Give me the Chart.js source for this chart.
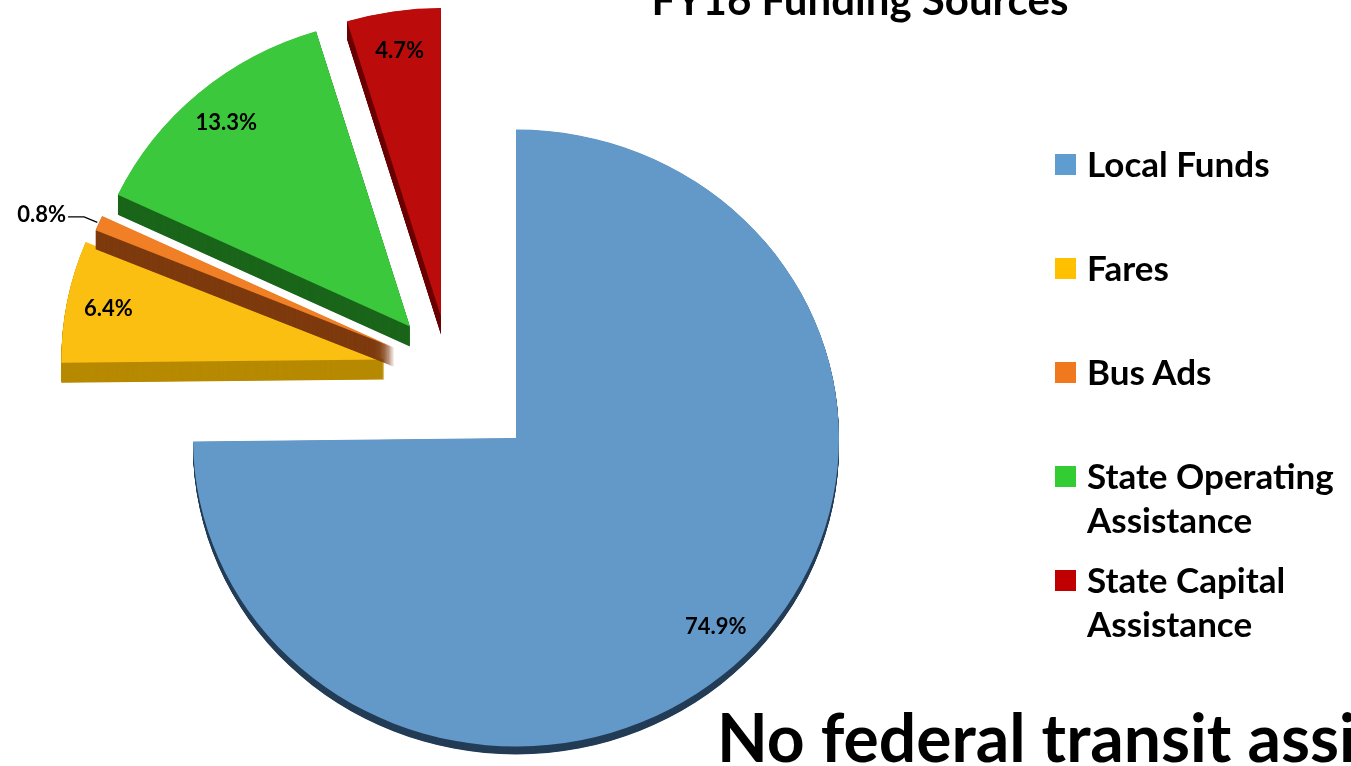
<!DOCTYPE html>
<html><head><meta charset="utf-8">
<script src="https://cdn.jsdelivr.net/npm/chart.js@4/dist/chart.umd.min.js"></script>
<style>
html,body{margin:0;padding:0;background:#fff;overflow:hidden;width:1351px;height:766px;}
#wrap{position:relative;width:1351px;height:766px;overflow:hidden;font-family:Lato,"Open Sans",sans-serif;font-weight:700;color:#000;}
#c{position:absolute;left:0;top:0;}
#title{position:absolute;left:560px;width:600px;top:-22px;text-align:center;font-size:42px;line-height:1;white-space:nowrap;}
#note{position:absolute;left:717px;top:704px;font-size:66px;line-height:1;white-space:nowrap;}
#legend{position:absolute;left:1055px;top:141px;}
.item{position:relative;height:104px;}
.sw{position:absolute;left:0;top:13px;width:21px;height:21px;}
.lt{position:absolute;left:32px;top:0;width:278px;font-size:35px;line-height:44px;}
</style></head>
<body><div id="wrap">
<canvas id="c" width="1351" height="766"></canvas>
<div id="title"></div>
<div id="legend"></div>
<div id="note"></div>
</div>
<script>
const titleText = 'FY16 Funding Sources';
const noteText = 'No federal transit assistance';
const categories = ['Local Funds', 'Fares', 'Bus Ads', 'State Operating Assistance', 'State Capital Assistance'];
const shares = [74.9, 6.4, 0.8, 13.3, 4.7];
const valueLabels = ['74.9%', '6.4%', '0.8%', '13.3%', '4.7%'];
const faceColors = ['#6399c9', '#fbbf12', '#f07f26', '#3cc83c', '#bb0b0b'];
const legendColors = ['#5f9cd0', '#ffc000', '#f0781e', '#33cc33', '#c00000'];
const sideColors = ['#243d57', '#b78a00', '#7e3b0e', '#1b661b', '#6b0000'];

document.getElementById('title').textContent = titleText;
document.getElementById('note').textContent = noteText;
const lg = document.getElementById('legend');
categories.forEach((c, i) => {
  const it = document.createElement('div'); it.className = 'item';
  const sw = document.createElement('div'); sw.className = 'sw'; sw.style.background = legendColors[i];
  const t = document.createElement('div'); t.className = 'lt'; t.textContent = c;
  it.appendChild(sw); it.appendChild(t); lg.appendChild(it);
});

const pie3d = {
  id: 'pie3d',
  beforeDatasetsDraw(chart, args, o) {
    const ctx = chart.ctx;
    const arcs = chart.getDatasetMeta(0).data;
    const cx = arcs[0].x, cy = arcs[0].y;
    let gs = Infinity, ge = -Infinity;
    arcs.forEach((a, i) => { if (o.explode[i] > 0) { gs = Math.min(gs, a.startAngle); ge = Math.max(ge, a.endAngle); } });
    const gm = (gs + ge) / 2;
    const shifts = arcs.map((a, i) => {
      if (!(o.explode[i] > 0)) return {dx: 0, dy: 0};
      const m = (a.startAngle + a.endAngle) / 2;
      return {
        dx: Math.cos(gm) * o.group + Math.cos(m) * o.explode[i],
        dy: Math.sin(gm) * o.group + Math.sin(m) * o.explode[i]
      };
    });
    chart.$shifts = shifts;
    arcs.forEach((a, i) => {
      const s = shifts[i];
      ctx.save();
      ctx.translate(s.dx, s.dy);
      ctx.translate(cx, cy); ctx.scale(1, o.squash); ctx.translate(-cx, -cy);
      ctx.fillStyle = o.side[i];
      for (let k = o.depth[i]; k > 0; k -= 0.5) {
        const yy = a.y + k / o.squash;
        ctx.beginPath();
        ctx.moveTo(a.x, yy);
        ctx.arc(a.x, yy, a.outerRadius, a.startAngle, a.endAngle);
        ctx.closePath();
        ctx.fill();
      }
      a.draw(ctx);
      ctx.restore();
    });
    return false;
  },
  afterDraw(chart, args, o) {
    const ctx = chart.ctx;
    const arcs = chart.getDatasetMeta(0).data;
    const shifts = chart.$shifts || [];
    ctx.save();
    ctx.font = o.font;
    ctx.fillStyle = '#000';
    ctx.strokeStyle = '#000';
    ctx.textBaseline = 'middle';
    arcs.forEach((a, i) => {
      const s = shifts[i] || {dx: 0, dy: 0};
      const m = (a.startAngle + a.endAngle) / 2;
      const r = a.outerRadius;
      const px = f => a.x + s.dx + Math.cos(m) * r * f;
      const py = f => a.y + s.dy + Math.sin(m) * r * f * o.squash;
      if (shares[i] < 2) {
        const x0 = px(1.005), y0 = py(1.005), x1 = px(1.05), y1 = py(1.05);
        ctx.lineWidth = 1.3;
        ctx.beginPath(); ctx.moveTo(x0, y0); ctx.lineTo(x1, y1); ctx.lineTo(x1 - 16, y1); ctx.stroke();
        ctx.textAlign = 'right';
        ctx.fillText(valueLabels[i], x1 - 18, y1 - 2);
      } else {
        ctx.textAlign = 'center';
        ctx.fillText(valueLabels[i], px(o.labelAt), py(o.labelAt));
      }
    });
    ctx.restore();
  }
};

new Chart(document.getElementById('c'), {
  type: 'pie',
  data: {
    labels: categories,
    datasets: [{
      data: shares,
      backgroundColor: faceColors,
      borderWidth: 0,
      offset: 0
    }]
  },
  options: {
    responsive: false,
    animation: false,
    radius: 323,
    layout: {padding: {left: 0, right: 319, top: 110, bottom: 0}},
    plugins: {
      legend: {display: false},
      tooltip: {enabled: false},
      title: {display: false},
      pie3d: {
        explode: [0, 66, 60, 60, 56],
        group: 94,
        squash: 0.955,
        depth: [8, 20, 19, 20, 18],
        side: sideColors,
        labelAt: 0.87,
        font: 'bold 22px Lato, "Open Sans", sans-serif'
      }
    }
  },
  plugins: [pie3d]
});
</script>
</body></html>
